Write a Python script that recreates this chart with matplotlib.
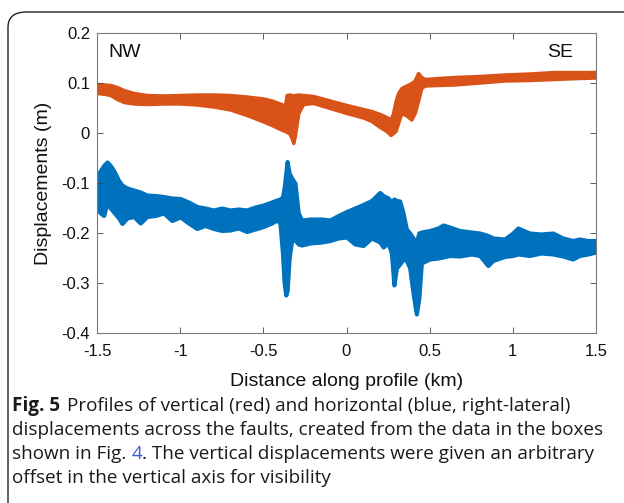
import numpy as np
import matplotlib
matplotlib.use("Agg")
import matplotlib.pyplot as plt
from matplotlib import font_manager
from matplotlib.patches import FancyBboxPatch

# ---------------- data ----------------
red_x = [-1.5, -1.45, -1.42, -1.38, -1.34, -1.28, -1.2, -1.1, -1.0, -0.9, -0.8, -0.7,
         -0.6, -0.5, -0.45, -0.4, -0.37, -0.36, -0.345, -0.33, -0.32, -0.31, -0.29,
         -0.26, -0.2, -0.1, 0.0, 0.1, 0.15, 0.2, 0.24, 0.265, 0.28, 0.295, 0.31, 0.33,
         0.36, 0.39, 0.41, 0.43, 0.45, 0.47, 0.55, 0.65, 0.8, 0.95, 1.1, 1.25, 1.4, 1.5]
red_top = [0.098, 0.097, 0.096, 0.092, 0.086, 0.080, 0.076, 0.075, 0.076, 0.077, 0.077, 0.076,
           0.073, 0.069, 0.065, 0.059, 0.055, 0.076, 0.077, 0.076, 0.075, 0.076, 0.077,
           0.076, 0.074, 0.065, 0.056, 0.048, 0.044, 0.038, 0.032, 0.027, 0.040, 0.064, 0.080, 0.090,
           0.095, 0.100, 0.105, 0.120, 0.112, 0.108, 0.110, 0.112, 0.114, 0.117, 0.119, 0.122, 0.122, 0.122]
red_bot = [0.080, 0.078, 0.076, 0.068, 0.062, 0.059, 0.058, 0.059, 0.059, 0.057, 0.053, 0.047,
           0.036, 0.023, 0.016, 0.008, 0.004, 0.002, 0.000, -0.010, -0.020, -0.005, 0.040,
           0.058, 0.060, 0.050, 0.040, 0.031, 0.024, 0.012, 0.004, -0.004, 0.000, 0.004, 0.020, 0.040,
           0.035, 0.027, 0.040, 0.064, 0.090, 0.095, 0.096, 0.097, 0.101, 0.105, 0.106, 0.108, 0.110, 0.111]

blue_x = [-1.5, -1.48, -1.46, -1.44, -1.42, -1.40, -1.37, -1.35, -1.32, -1.28, -1.24, -1.20,
          -1.15, -1.10, -1.05, -1.0, -0.95, -0.90, -0.85, -0.80, -0.75, -0.70, -0.65, -0.60,
          -0.55, -0.50, -0.45, -0.42, -0.40, -0.385, -0.375, -0.365, -0.357, -0.345, -0.33,
          -0.31, -0.29, -0.27, -0.22, -0.15, -0.10, -0.05, 0.0, 0.05, 0.10, 0.15, 0.20, 0.22,
          0.25, 0.27, 0.285, 0.30, 0.32, 0.34, 0.36, 0.38, 0.40, 0.42, 0.435, 0.45, 0.50,
          0.55, 0.58, 0.62, 0.68, 0.75, 0.80, 0.85, 0.88, 0.95, 1.00, 1.03, 1.10, 1.17,
          1.24, 1.30, 1.36, 1.40, 1.45, 1.50]
blue_top = [-0.085, -0.075, -0.065, -0.058, -0.065, -0.075, -0.095, -0.104, -0.110, -0.114, -0.118, -0.124,
            -0.125, -0.127, -0.130, -0.131, -0.138, -0.147, -0.150, -0.154, -0.150, -0.154, -0.152, -0.154,
            -0.148, -0.144, -0.138, -0.134, -0.132, -0.128, -0.110, -0.080, -0.057, -0.080, -0.090,
            -0.100, -0.160, -0.174, -0.172, -0.172, -0.174, -0.165, -0.157, -0.150, -0.143, -0.135, -0.119, -0.125,
            -0.130, -0.138, -0.132, -0.135, -0.136, -0.160, -0.192, -0.200, -0.210, -0.218, -0.200, -0.198, -0.195,
            -0.190, -0.184, -0.188, -0.195, -0.198, -0.200, -0.205, -0.210, -0.212, -0.200, -0.190, -0.200, -0.202,
            -0.200, -0.210, -0.215, -0.212, -0.215, -0.215]
blue_bot = [-0.150, -0.160, -0.165, -0.140, -0.150, -0.158, -0.170, -0.181, -0.170, -0.167, -0.180, -0.167,
            -0.165, -0.160, -0.175, -0.168, -0.180, -0.191, -0.185, -0.191, -0.195, -0.194, -0.190, -0.197,
            -0.192, -0.187, -0.180, -0.174, -0.180, -0.240, -0.300, -0.324, -0.315, -0.250, -0.215,
            -0.214, -0.222, -0.224, -0.220, -0.218, -0.215, -0.210, -0.208, -0.222, -0.225, -0.210, -0.218, -0.228,
            -0.220, -0.240, -0.304, -0.270, -0.262, -0.252, -0.255, -0.270, -0.320, -0.362, -0.330, -0.260, -0.252,
            -0.250, -0.248, -0.245, -0.246, -0.242, -0.245, -0.265, -0.255, -0.247, -0.245, -0.242, -0.245, -0.240,
            -0.242, -0.246, -0.252, -0.245, -0.242, -0.238]

x_ticks = [-1.5, -1, -0.5, 0, 0.5, 1, 1.5]
x_ticklabels = ["-1.5", "-1", "-0.5", "0", "0.5", "1", "1.5"]
y_ticks = [-0.4, -0.3, -0.2, -0.1, 0, 0.1, 0.2]
y_ticklabels = ["-0.4", "-0.3", "-0.2", "-0.1", "0", "0.1", "0.2"]

RED = "#D95319"
BLUE = "#0072BD"

names = {f.name for f in font_manager.fontManager.ttflist}
AX_FONT = "Liberation Sans"
CAP_FONT = "Liberation Sans Narrow" if "Liberation Sans Narrow" in names else "Open Sans"

fig = plt.figure(figsize=(6.24, 5.03), dpi=100)
W, H = 624, 503

# frame around figure + caption
frame = FancyBboxPatch((8 / W, -0.2), 1.2, (H - 12) / H + 0.2,
                       boxstyle="round,pad=0,rounding_size=0.03",
                       transform=fig.transFigure, fill=False,
                       edgecolor="#222222", linewidth=1.0, clip_on=False)
fig.patches.append(frame)

ax = fig.add_axes([97 / W, 1 - 333 / H, 499 / W, 300 / H])
ax.fill_between(red_x, red_bot, red_top, color=RED, linewidth=2.5, edgecolor=RED)
ax.fill_between(blue_x, blue_bot, blue_top, color=BLUE, linewidth=3, edgecolor=BLUE)

ax.set_xlim(-1.5, 1.5)
ax.set_ylim(-0.4, 0.2)
ax.set_xticks(x_ticks)
ax.set_xticklabels(x_ticklabels, fontfamily=AX_FONT, fontsize=12)
ax.set_yticks(y_ticks)
ax.set_yticklabels(y_ticklabels, fontfamily=AX_FONT, fontsize=12)
ax.tick_params(axis="both", direction="in", length=4, width=0.6, color="#404040",
               top=True, right=True, labelcolor="#111111")
ax.tick_params(axis="x", pad=8)
ax.tick_params(axis="y", pad=5)
for s in ax.spines.values():
    s.set_color("#7a7a7a")
    s.set_linewidth(0.8)
ax.set_xlabel("Distance along profile (km)", fontfamily=AX_FONT, fontsize=14,
              labelpad=10, color="#111111")
ax.set_ylabel("Displacements (m)", fontfamily=AX_FONT, fontsize=14,
              labelpad=7, color="#111111")
ax.text(0.022, 0.935, "NW", transform=ax.transAxes, fontfamily=AX_FONT,
        fontsize=14, va="center", ha="left", color="#111111")
ax.text(0.955, 0.935, "SE", transform=ax.transAxes, fontfamily=AX_FONT,
        fontsize=14, va="center", ha="right", color="#111111")

# caption
CAP_SIZE = 13.6
lines_y = [406, 430, 454, 478]
renderer = fig.canvas.get_renderer()


def put(xpx, ypx, s, **kw):
    t = fig.text(xpx / W, 1 - ypx / H, s, fontfamily=CAP_FONT, fontsize=CAP_SIZE,
                 va="center", ha="left", color="#1a1a1a", **kw)
    bb = t.get_window_extent(renderer=renderer)
    return xpx + bb.width


x0 = 12
xe = put(x0, lines_y[0], "Fig. 5", fontweight="bold")
put(xe + 7, lines_y[0], "Profiles of vertical (red) and horizontal (blue, right-lateral)")
put(x0, lines_y[1], "displacements across the faults, created from the data in the boxes")
xe = put(x0, lines_y[2], "shown in Fig.\u00a0")
xe = fig.text(xe / W, 1 - lines_y[2] / H, "4", fontfamily=CAP_FONT, fontsize=CAP_SIZE,
              va="center", ha="left", color="#3b5bdb")
bb = xe.get_window_extent(renderer=renderer)
put(bb.x1, lines_y[2], ". The vertical displacements were given an arbitrary")
put(x0, lines_y[3], "offset in the vertical axis for visibility")

fig.savefig("out.png", dpi=100)
